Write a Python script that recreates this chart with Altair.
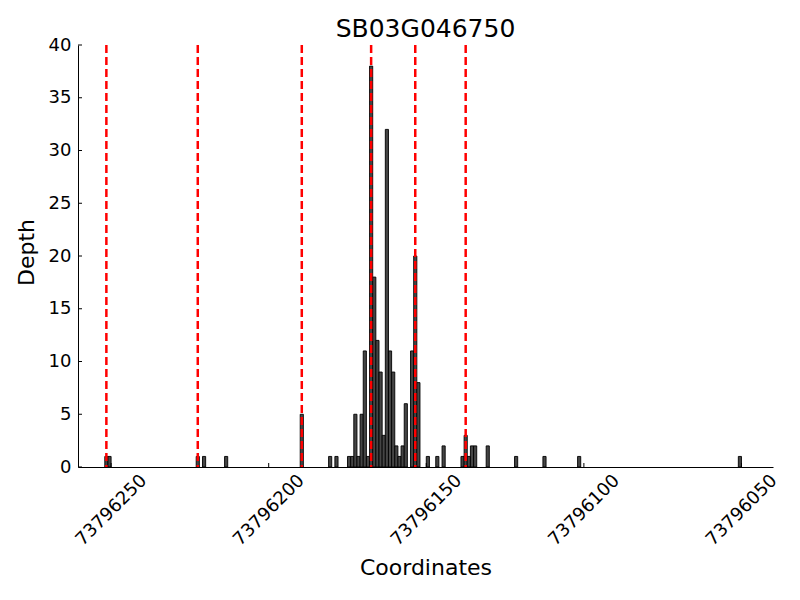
import altair as alt
import pandas as pd

# Bar start coordinates (each bar spans [start, start+1]) and depths
bar_start = [73796251, 73796250, 73796222, 73796220, 73796213, 73796189,
             73796180, 73796178, 73796174, 73796173, 73796172, 73796171,
             73796170, 73796169, 73796168, 73796167, 73796166, 73796165,
             73796164, 73796163, 73796162, 73796161, 73796160, 73796159,
             73796158, 73796157, 73796156, 73796154, 73796153, 73796152,
             73796149, 73796146, 73796144, 73796138, 73796137, 73796136,
             73796135, 73796134, 73796130, 73796121, 73796112, 73796101,
             73796050]
bar_depth = [1, 1, 1, 1, 1, 5,
             1, 1, 1, 1, 5, 1,
             5, 11, 1, 38, 18, 12,
             9, 3, 32, 11, 9, 2,
             1, 2, 6, 11, 20, 8,
             1, 1, 2, 1, 3, 1,
             2, 2, 2, 1, 1, 1,
             1]

# Red dashed marker lines
marker_pos = [73796251.5, 73796222.5, 73796189.5, 73796167.5, 73796153.5, 73796137.5]

# Axis ticks
x_ticks = [73796250, 73796200, 73796150, 73796100, 73796050]
y_ticks = [0, 5, 10, 15, 20, 25, 30, 35, 40]

x_domain = [73796040, 73796260.5]
y_domain = [0, 40]

W, H = 695, 422
FONT = "DejaVu Sans"

bars_df = pd.DataFrame({"start": bar_start, "depth": bar_depth})
bars_df["end"] = bars_df["start"] + 1
bars_df["base"] = 0
marks_df = pd.DataFrame({"pos": marker_pos})
xt_df = pd.DataFrame({"xtick": x_ticks})
yt_df = pd.DataFrame({"ytick": y_ticks})

xscale = alt.Scale(domain=x_domain, reverse=True, nice=False, zero=False)
yscale = alt.Scale(domain=y_domain, nice=False, zero=True)

xaxis = alt.Axis(
    values=x_ticks, format="d", labelAngle=315, labelAlign="center",
    labelBaseline="middle", labelPadding=43, ticks=False, tickSize=0,
    labelOverlap=False, labelFlush=False, grid=False,
    domainColor="black", domainWidth=1,
    labelFont=FONT, labelFontSize=18, labelColor="black",
    title="Coordinates", titleFont=FONT, titleFontSize=22,
    titleFontWeight="normal", titleColor="black",
    titleX=W / 2, titleY=107, titleAlign="center", titleBaseline="alphabetic")

yaxis = alt.Axis(
    values=y_ticks, ticks=False, tickSize=0, labelPadding=7,
    labelOverlap=False, labelFlush=False, grid=False,
    domainColor="black", domainWidth=1,
    labelFont=FONT, labelFontSize=18, labelColor="black",
    title="Depth", titleFont=FONT, titleFontSize=22,
    titleFontWeight="normal", titleColor="black",
    titleX=-45, titleY=207, titleAngle=270,
    titleAlign="center", titleBaseline="alphabetic")

bars = alt.Chart(bars_df).mark_bar(
    fill="#454545", stroke="black", strokeWidth=0.9
).encode(
    x=alt.X("start:Q", scale=xscale, axis=xaxis),
    x2="end:Q",
    y=alt.Y("depth:Q", scale=yscale, axis=yaxis),
    y2="base:Q",
)

lines = alt.Chart(marks_df).mark_rule(
    color="#ff0000", strokeDash=[8, 4], strokeWidth=2.5
).encode(
    x=alt.X("pos:Q", scale=xscale, axis=xaxis),
    y=alt.value(0),
    y2=alt.value(H),
)

xticks = alt.Chart(xt_df).mark_rule(color="black", strokeWidth=1).encode(
    x=alt.X("xtick:Q", scale=xscale, axis=xaxis),
    y=alt.value(H),
    y2=alt.value(H - 4),
)

yticks = alt.Chart(yt_df).mark_rule(color="black", strokeWidth=1).encode(
    y=alt.Y("ytick:Q", scale=yscale, axis=yaxis),
    x=alt.value(0),
    x2=alt.value(4),
)

chart = alt.layer(bars, lines, xticks, yticks).properties(
    width=W, height=H,
    autosize=alt.AutoSizeParams(type="none"),
    padding={"left": 70, "top": 37, "right": 19, "bottom": 125},
    background="white",
    title=alt.TitleParams("SB03G046750", font=FONT, fontSize=25,
                          fontWeight="normal", color="black", anchor="middle",
                          offset=2, dy=8),
).configure_view(stroke=None)

chart.save("out.html", embed_options={"renderer": "svg", "actions": False})
